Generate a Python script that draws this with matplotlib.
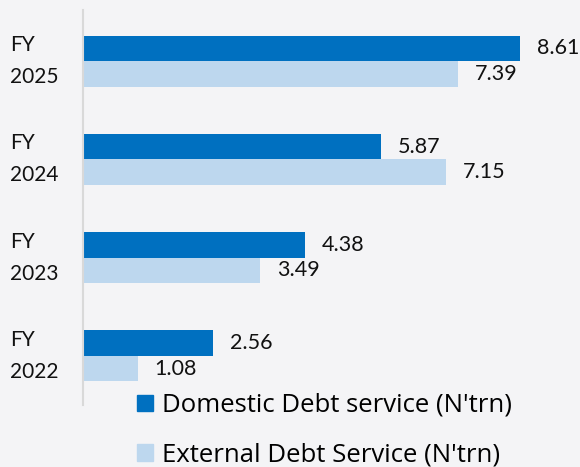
import matplotlib.pyplot as plt
from matplotlib.patches import Patch

YEARS = ["2022", "2023", "2024", "2025"]
DOMESTIC = [2.56, 4.38, 5.87, 8.61]
EXTERNAL = [1.08, 3.49, 7.15, 7.39]
DOM_LABEL = "Domestic Debt service (N'trn)"
EXT_LABEL = "External Debt Service (N'trn)"

DARK = "#0070c0"
LIGHT = "#bdd7ee"
BG = "#f4f4f6"

plt.rcParams["font.family"] = ["Lato", "DejaVu Sans"]

fig = plt.figure(figsize=(5.8, 4.67), dpi=100, facecolor=BG)
W, H = 580, 467
ax = fig.add_axes([83 / W, 1 - 405 / H, 482 / W, 395 / H])
ax.set_facecolor(BG)

ys = list(range(len(YEARS)))
h = 0.26
ax.barh([y + h / 2 for y in ys], DOMESTIC, height=h, color=DARK)
ax.barh([y - h / 2 for y in ys], EXTERNAL, height=h, color=LIGHT)

for y, d, e in zip(ys, DOMESTIC, EXTERNAL):
    ax.annotate(f"{d:.2f}", (d, y + h / 2), xytext=(12, 0), textcoords="offset points",
                va="center", ha="left", fontsize=15.5, color="#111111")
    ax.annotate(f"{e:.2f}", (e, y - h / 2), xytext=(12, 0), textcoords="offset points",
                va="center", ha="left", fontsize=15.5, color="#111111")
    ax.text(-0.151, y, f"FY\n{YEARS[y]}", transform=ax.get_yaxis_transform(),
            ha="left", va="center", fontsize=15, linespacing=1.75, color="#111111")

ax.set_xlim(0, 9.5)
ax.set_ylim(-0.5, 3.52)
ax.set_xticks([])
ax.set_yticks([])
for s in ["top", "right", "bottom"]:
    ax.spines[s].set_visible(False)
ax.spines["left"].set_color("#d9d9d9")
ax.spines["left"].set_linewidth(1.5)

handles = [Patch(color=DARK, label=DOM_LABEL), Patch(color=LIGHT, label=EXT_LABEL)]
fig.legend(handles=handles, loc="upper left", bbox_to_anchor=(137 / W, 1 - 393 / H),
           frameon=False, prop={"family": ["Open Sans", "DejaVu Sans"], "size": 18.5},
           handlelength=0.62, handleheight=0.62,
           handletextpad=0.36, labelspacing=0.95, borderpad=0, borderaxespad=0)

fig.savefig("out.png", dpi=100, facecolor=BG)
